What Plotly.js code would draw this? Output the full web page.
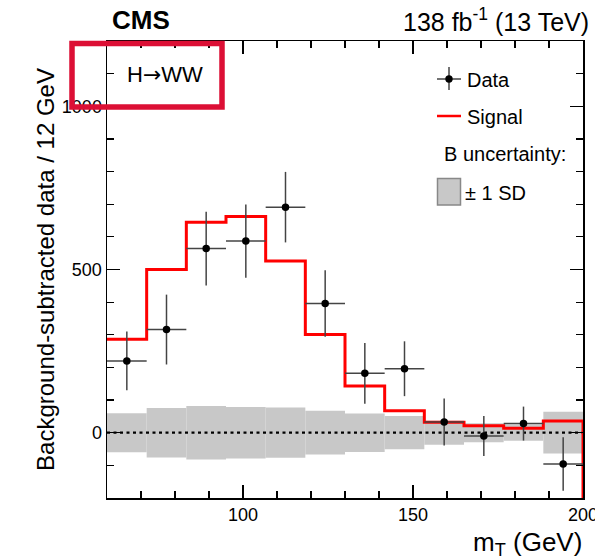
<!DOCTYPE html>
<html>
<head>
<meta charset="utf-8">
<script src="https://cdn.plot.ly/plotly-3.0.1.min.js"></script>
<style>
  html, body { margin: 0; padding: 0; background: #fff; }
  #chart { width: 595px; height: 560px; }
</style>
</head>
<body>
<div id="chart"></div>
<script>
// ---- data ----
const binEdges = [60, 71.667, 83.333, 95, 106.667, 118.333, 130, 141.667, 153.333, 165, 176.667, 188.333, 200];
const signalValues = [286, 500, 645, 662, 526, 301, 143, 67, 32, 21, 14, 36];
const dataValues = [220, 316, 564, 587, 691, 396, 182, 196, 33, -10, 28, -96];
const dataErrors = [90, 107, 113, 112, 108, 102, 93, 84, 72, 61, 52, 82];
const bkgUncertainty = [60, 76, 82, 79, 77, 67, 59, 51, 37, 29, 25, 64];
const xTickLabels = ['100', '150', '200'];
const yTickLabels = ['0', '500', '1000'];
const xRange = [60, 200];
const yRange = [-200, 1200];

// ---- derived ----
const binCenters = binEdges.slice(0, -1).map((e, i) => (e + binEdges[i + 1]) / 2);
const binWidths = binEdges.slice(0, -1).map((e, i) => binEdges[i + 1] - e);
const sigX = binEdges.concat([binEdges[binEdges.length - 1]]);
const sigY = signalValues.concat([signalValues[signalValues.length - 1], yRange[0]]);

const FONT = '"Liberation Sans", Arial, Helvetica, sans-serif';
// plot area in pixels
const L = 107, R = 583, T = 41, B = 498;
const X = px => (px - L) / (R - L);
const Y = py => (B - py) / (B - T);

const traces = [
  {
    type: 'bar', x: binCenters, y: bkgUncertainty.map(u => 2 * u),
    base: bkgUncertainty.map(u => -u), width: binWidths,
    marker: { color: '#c8c8c8', line: { width: 0 } },
    hoverinfo: 'skip', showlegend: false, name: 'B uncertainty'
  },
  {
    type: 'scatter', mode: 'lines', x: xRange, y: [0, 0],
    line: { color: '#000', width: 2.2, dash: '3px,3.5px' },
    hoverinfo: 'skip', showlegend: false
  },
  {
    type: 'scatter', mode: 'lines', x: sigX, y: sigY, name: 'Signal',
    line: { color: '#ff0000', width: 3, shape: 'hv' }, showlegend: false
  },
  {
    type: 'scatter', mode: 'markers', x: binCenters, y: dataValues, name: 'Data',
    marker: { color: '#000', size: 7.5 },
    error_y: { type: 'data', array: dataErrors, visible: true, color: '#444', thickness: 1.5, width: 0 },
    error_x: { type: 'data', array: binWidths.map(w => w / 2), visible: true, color: '#444', thickness: 1.5, width: 0 },
    showlegend: false
  }
];

const axisCommon = {
  showline: true, linecolor: '#000', linewidth: 1.5, mirror: 'ticks',
  ticks: 'inside', ticklen: 13, tickwidth: 1.3, tickcolor: '#000',
  showgrid: false, zeroline: false, ticklabeloverflow: 'allow',
  tickfont: { family: FONT, size: 18, color: '#000' }
};

const layout = {
  width: 595, height: 560,
  margin: { l: L, r: 595 - R, t: T, b: 560 - B, pad: 0 },
  paper_bgcolor: '#fff', plot_bgcolor: '#fff',
  showlegend: false,
  font: { family: FONT, color: '#000' },
  xaxis: Object.assign({}, axisCommon, {
    range: xRange, tickmode: 'array', tickvals: xTickLabels.map(Number), ticktext: xTickLabels,
    minor: { dtick: 10, tick0: 0, ticks: 'inside', ticklen: 7, tickwidth: 1.2, tickcolor: '#000' }
  }),
  yaxis: Object.assign({}, axisCommon, {
    range: yRange, tickmode: 'array', tickvals: yTickLabels.map(Number), ticktext: yTickLabels,
    minor: { dtick: 100, tick0: 0, ticks: 'inside', ticklen: 7, tickwidth: 1.2, tickcolor: '#000' },
    title: { text: 'Background-subtracted data / 12 GeV', font: { family: FONT, size: 24, color: '#000' }, standoff: 0 },
    automargin: false
  }),
  shapes: [
    // red box around the process label
    { type: 'rect', xref: 'paper', yref: 'paper', x0: X(72), x1: X(222), y0: Y(107), y1: Y(43.5),
      line: { color: '#dc0f35', width: 5.5 }, fillcolor: 'rgba(0,0,0,0)', layer: 'above' },
    // legend: data marker
    { type: 'line', xref: 'paper', yref: 'paper', x0: X(437), x1: X(461), y0: Y(79), y1: Y(79), line: { color: '#444', width: 1.5 } },
    { type: 'line', xref: 'paper', yref: 'paper', x0: X(449), x1: X(449), y0: Y(67), y1: Y(90), line: { color: '#444', width: 1.5 } },
    { type: 'circle', xref: 'paper', yref: 'paper', x0: X(445.3), x1: X(452.7), y0: Y(75.3), y1: Y(82.7), fillcolor: '#000', line: { width: 0 } },
    // legend: signal line
    { type: 'line', xref: 'paper', yref: 'paper', x0: X(437), x1: X(461), y0: Y(116), y1: Y(116), line: { color: '#ff0000', width: 2.5 } },
    // legend: uncertainty box
    { type: 'rect', xref: 'paper', yref: 'paper', x0: X(437.5), x1: X(460.5), y0: Y(205), y1: Y(178.5),
      fillcolor: '#c8c8c8', line: { color: '#888', width: 1.5 } }
  ],
  annotations: [
    { text: '<b>CMS</b>', xref: 'paper', yref: 'paper', x: X(110), y: Y(20), xanchor: 'left', yanchor: 'middle',
      showarrow: false, font: { family: FONT, size: 26, color: '#000' } },
    { text: '138 fb<sup>-1</sup> (13 TeV)', xref: 'paper', yref: 'paper', x: X(591), y: Y(20), xanchor: 'right', yanchor: 'middle',
      showarrow: false, font: { family: FONT, size: 25, color: '#000' } },
    { text: 'H<span style="font-family:\'DejaVu Sans\'">→</span>WW', xref: 'paper', yref: 'paper', x: X(125), y: Y(74), xanchor: 'left', yanchor: 'middle',
      showarrow: false, font: { family: FONT, size: 22, color: '#000' } },
    { text: 'm<sub>T</sub> (GeV)', xref: 'paper', yref: 'paper', x: X(584), y: Y(543), xanchor: 'right', yanchor: 'middle',
      showarrow: false, font: { family: FONT, size: 26, color: '#000' } },
    { text: 'Data', xref: 'paper', yref: 'paper', x: X(465), y: Y(80), xanchor: 'left', yanchor: 'middle',
      showarrow: false, font: { family: FONT, size: 20, color: '#000' } },
    { text: 'Signal', xref: 'paper', yref: 'paper', x: X(465), y: Y(117), xanchor: 'left', yanchor: 'middle',
      showarrow: false, font: { family: FONT, size: 20, color: '#000' } },
    { text: 'B uncertainty:', xref: 'paper', yref: 'paper', x: X(442), y: Y(154), xanchor: 'left', yanchor: 'middle',
      showarrow: false, font: { family: FONT, size: 20, color: '#000' } },
    { text: '± 1 SD', xref: 'paper', yref: 'paper', x: X(463), y: Y(193), xanchor: 'left', yanchor: 'middle',
      showarrow: false, font: { family: FONT, size: 20, color: '#000' } }
  ]
};

Plotly.newPlot('chart', traces, layout, { staticPlot: true, displayModeBar: false });
</script>
</body>
</html>
